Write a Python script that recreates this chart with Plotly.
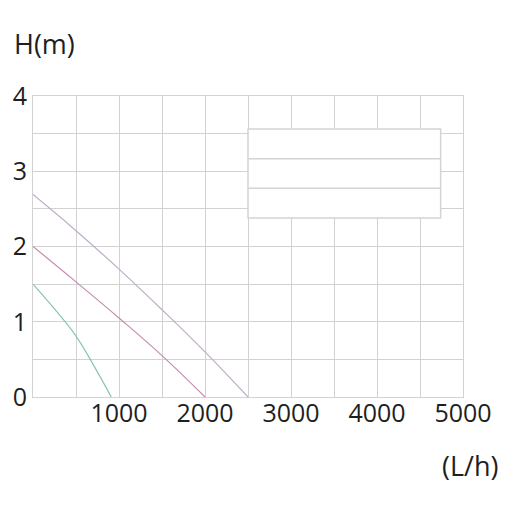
import plotly.graph_objects as go

# pump curves: flow (L/h) vs head (m)
flow_a = [0, 500, 1000, 1500, 2000, 2500]
head_a = [2.69, 2.21, 1.70, 1.16, 0.60, 0.0]

flow_b = [0, 500, 1000, 1500, 2000]
head_b = [2.0, 1.53, 1.05, 0.55, 0.0]

flow_c = [0, 250, 500, 750, 910]
head_c = [1.5, 1.17, 0.81, 0.33, 0.0]

grid_vals = list(range(0, 5001, 500))
grid_text = [str(v) if v % 1000 == 0 and v > 0 else '' for v in grid_vals]

GRID = '#d2d2d2'
TXT = '#1e1e1e'

fig = go.Figure()
for xs, ys, col in [
    (flow_a, head_a, '#c0abc8'),
    (flow_b, head_b, '#c68cb0'),
    (flow_c, head_c, '#88c4b6'),
]:
    fig.add_trace(go.Scatter(x=xs, y=ys, mode='lines',
                             line=dict(color=col, width=1.2, shape='spline', smoothing=1.2),
                             showlegend=False, hoverinfo='skip'))

# faded legend box
x0, x1, y0, y1 = 2500, 4740, 2.38, 3.56
fig.add_shape(type='rect', x0=x0, x1=x1, y0=y0, y1=y1,
              line=dict(color='#d4d4d4', width=1.5), fillcolor='white', layer='above')
for yy in [y0 + (y1 - y0) / 3, y0 + 2 * (y1 - y0) / 3]:
    fig.add_shape(type='line', x0=x0, x1=x1, y0=yy, y1=yy,
                  line=dict(color='#d4d4d4', width=1.5), layer='above')

fig.update_xaxes(range=[0, 5000], tickvals=grid_vals, ticktext=grid_text,
                 showgrid=True, gridcolor=GRID, gridwidth=1, automargin=False,
                 showline=True, linecolor=GRID, mirror=True, zeroline=False,
                 ticks='', ticklabelstandoff=-6, tickfont=dict(size=25, color=TXT))
fig.update_yaxes(range=[0, 4], tickvals=[0, 0.5, 1, 1.5, 2, 2.5, 3, 3.5, 4],
                 ticktext=['0', '', '1', '', '2', '', '3', '', '4'],
                 showgrid=True, gridcolor=GRID, gridwidth=1, automargin=False,
                 showline=True, linecolor=GRID, mirror=True, zeroline=False,
                 ticks='', tickfont=dict(size=25, color=TXT))

fig.add_annotation(text='H(m)', xref='paper', yref='paper', x=-0.049, y=1.176,
                   xanchor='left', yanchor='middle', showarrow=False,
                   font=dict(size=27, color=TXT))
fig.add_annotation(text='(L/h)', xref='paper', yref='paper', x=1.086, y=-0.229,
                   xanchor='right', yanchor='middle', showarrow=False,
                   font=dict(size=27, color=TXT))

fig.update_layout(width=504, height=504,
                  margin=dict(l=25, r=49, t=88, b=115),
                  paper_bgcolor='white', plot_bgcolor='white',
                  font=dict(family='Open Sans', color=TXT))

fig.write_html('out.html')
